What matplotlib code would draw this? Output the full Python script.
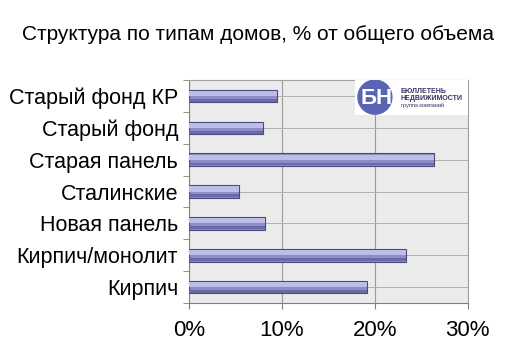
import matplotlib.pyplot as plt
from matplotlib.patches import Circle, Rectangle
import numpy as np

plt.rcParams['font.family'] = ['Liberation Sans', 'DejaVu Sans']

# data (top to bottom as drawn)
categories = ['Старый фонд КР', 'Старый фонд', 'Старая панель', 'Сталинские',
              'Новая панель', 'Кирпич/монолит', 'Кирпич']
values = [9.5, 7.9, 26.4, 5.4, 8.2, 23.4, 19.2]
x_ticks = [0, 10, 20, 30]
x_labels = ['0%', '10%', '20%', '30%']

fig = plt.figure(figsize=(5.10, 3.61), dpi=100)
ax = fig.add_axes([0.371, 0.161, 0.546, 0.617])
ax.set_facecolor('#ebebeb')

y = np.arange(len(categories))[::-1]
bar_h = 0.40

# bars with light/dark strips to mimic the 3D look
ax.barh(y, values, height=bar_h, color='#8c8cc8', edgecolor='#4a4a78', linewidth=0.8, zorder=3)
ax.barh(y + bar_h * 0.2, values, height=bar_h * 0.4, color='#bdbdea', linewidth=0, zorder=4)
ax.barh(y - bar_h * 0.34, values, height=bar_h * 0.22, color='#6a6aa4', linewidth=0, zorder=4)

ax.set_xlim(0, 30)
ax.set_ylim(-0.5, len(categories) - 0.5)
ax.set_xticks(x_ticks)
ax.set_xticklabels(x_labels, fontsize=16)
ax.set_yticks(y)
ax.set_yticklabels(categories, fontsize=15.5)
ax.tick_params(axis='y', length=0, pad=8)
ax.set_yticks(np.arange(len(categories) + 1) - 0.5, minor=True)
ax.tick_params(axis='y', which='minor', length=4, color='#808080')
ax.tick_params(axis='x', length=4, color='#808080', pad=8)

ax.grid(axis='x', color='#9a9a9a', linewidth=0.8, zorder=1)
ax.grid(axis='y', color='#b0b0b0', linewidth=0.7, zorder=1)
ax.set_axisbelow(True)
for s in ['top', 'right']:
    ax.spines[s].set_color('#a0a0a0')
for s in ['left', 'bottom']:
    ax.spines[s].set_color('#808080')

fig.text(0.505, 0.905, 'Структура по типам домов, % от общего объема',
         ha='center', va='center', fontsize=15)

# logo in the upper right corner
lax = fig.add_axes([0.696, 0.681, 0.221, 0.097])
lax.set_xlim(0, 113)
lax.set_ylim(0, 35)
lax.axis('off')
lax.add_patch(Rectangle((0, 0), 113, 35, color='white'))
lax.add_patch(Circle((20, 18), 17, color='#5a64b4'))
lax.text(22, 17, 'БН', color='white', fontsize=16, fontweight='bold', ha='center', va='center')
lax.text(46, 24, 'БЮЛЛЕТЕНЬ', fontsize=5, fontweight='bold', color='#303060', va='center')
lax.text(46, 17, 'НЕДВИЖИМОСТИ', fontsize=5, fontweight='bold', color='#303060', va='center')
lax.text(46, 10, 'группа компаний', fontsize=4, color='#303060', va='center')

fig.savefig('out.png', dpi=100)
